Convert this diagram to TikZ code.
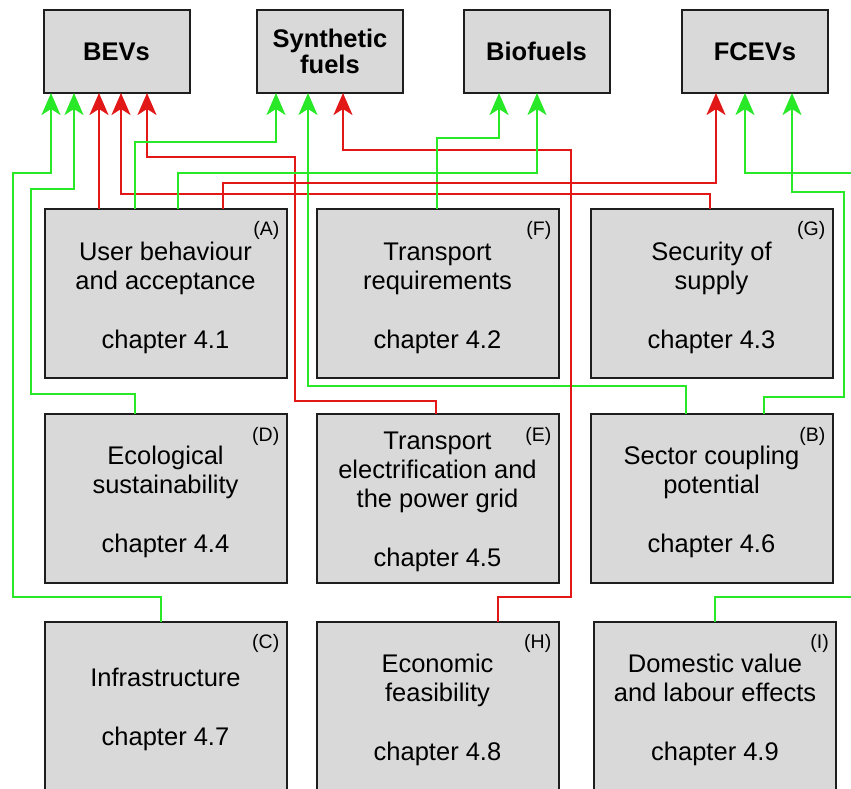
\documentclass[tikz,border=0pt]{standalone}
\usepackage{fontspec}
\setmainfont{Liberation Sans}
\usetikzlibrary{arrows.meta}

\definecolor{boxfill}{RGB}{217,217,217}
\definecolor{boxline}{RGB}{30,30,30}
\definecolor{linkgreen}{RGB}{40,232,40}
\definecolor{linkred}{RGB}{226,24,24}

\tikzset{
  fuelbox/.style={draw=boxline, line width=2pt, fill=boxfill, outer sep=0pt,
    minimum width=146pt, minimum height=83pt, align=center, inner sep=0pt,
    font=\fontsize{25.5}{26}\selectfont\bfseries},
  topicbox/.style={draw=boxline, line width=2pt, fill=boxfill, outer sep=0pt,
    minimum width=242pt, minimum height=169pt, inner sep=0pt},
  topictext/.style={align=center, inner sep=0pt, font=\fontsize{25.5}{29}\selectfont},
  tag/.style={anchor=north east, inner sep=0pt, font=\fontsize{19.5}{22}\selectfont},
  tip/.style={-{Stealth[length=22pt,width=19pt,inset=6pt]}},
  glink/.style={tip, draw=linkgreen, line width=2.2pt},
  rlink/.style={tip, draw=linkred, line width=2.2pt},
}

\begin{document}
\begin{tikzpicture}[x=1pt, y=-1pt]
\useasboundingbox (0,0) rectangle (851,789);
\clip (0,0) rectangle (851,789);

% drive-train options
\node[fuelbox] (bev)  at (116.5,51.5) {BEVs};
\node[fuelbox] (syn)  at (330,51.5)   {Synthetic\\fuels};
\node[fuelbox] (bio)  at (536.5,51.5) {Biofuels};
\node[fuelbox] (fcev) at (755,51.5)   {FCEVs};

% assessment topic boxes
\node[topicbox] (A) at (165.5,293) {};
\node[topicbox] (F) at (437.5,293) {};
\node[topicbox] (G) at (711.5,293) {};
\node[topicbox] (D) at (165.5,498.5) {};
\node[topicbox] (E) at (437.5,498.5) {};
\node[topicbox] (B) at (711.5,498.5) {};
\node[topicbox] (C) at (165.5,706) {};
\node[topicbox] (H) at (437.5,706) {};
\node[topicbox] (I) at (715,706) {};

% topic titles
\node[topictext] (Atext) at ([yshift=-5pt]A.center) {User behaviour\\and acceptance\\[30pt]chapter 4.1};
\node[topictext] (Ftext) at ([yshift=-5pt]F.center) {Transport\\requirements\\[30pt]chapter 4.2};
\node[topictext] (Gtext) at ([yshift=-5pt]G.center) {Security of\\supply\\[30pt]chapter 4.3};
\node[topictext] (Dtext) at ([yshift=-3.5pt]D.center) {Ecological\\sustainability\\[30pt]chapter 4.4};
\node[topictext] (Etext) at ([yshift=-3.5pt]E.center) {Transport\\electrification and\\the power grid\\[30pt]chapter 4.5};
\node[topictext] (Btext) at ([yshift=-3.5pt]B.center) {Sector coupling\\potential\\[30pt]chapter 4.6};
\node[topictext] (Ctext) at ([yshift=-3.5pt]C.center) {Infrastructure\\[30pt]chapter 4.7};
\node[topictext] (Htext) at ([yshift=-3.5pt]H.center) {Economic\\feasibility\\[30pt]chapter 4.8};
\node[topictext] (Itext) at ([yshift=-3.5pt]I.center) {Domestic value\\and labour effects\\[30pt]chapter 4.9};

% topic letters
\foreach \n in {A,B,C,D,E,F,G,H,I}
  \node[tag] (tag\n) at ([shift={(-7pt,-13pt)}]\n.north east) {(\n)};

% links into BEVs
\draw[glink] ([xshift=116.5pt]C.north west) |- (13,597) |- (51,173) -- ([xshift=7.5pt]bev.south west);
\draw[glink] ([xshift=90.5pt]D.north west) |- (31,394) |- (74,189) -- ([xshift=30.5pt]bev.south west);
\draw[rlink] ([xshift=54.5pt]A.north west) -- ([xshift=55.5pt]bev.south west);
\draw[rlink] ([xshift=119.5pt]G.north west) |- (121,194) -- ([xshift=77.5pt]bev.south west);
\draw[rlink] ([xshift=119.5pt]E.north west) |- (295,401) |- (147,157) -- ([xshift=103.5pt]bev.south west);

% links into synthetic fuels
\draw[glink] ([xshift=90.5pt]A.north west) |- (276,142) -- ([xshift=19pt]syn.south west);
\draw[glink] ([xshift=95.5pt]B.north west) |- (308,386) -- ([xshift=51pt]syn.south west);
\draw[rlink] ([xshift=181.5pt]H.north west) |- (571,597) |- (343,150) -- ([xshift=86pt]syn.south west);

% links into biofuels
\draw[glink] ([xshift=120.5pt]F.north west) |- (499,138) -- ([xshift=35.5pt]bio.south west);
\draw[glink] ([xshift=133.5pt]A.north west) |- (537,173) -- ([xshift=73.5pt]bio.south west);

% links into FCEVs
\draw[rlink] ([xshift=178.5pt]A.north west) |- (716,183) -- ([xshift=34pt]fcev.south west);
\draw[glink] ([xshift=121pt]I.north west) |- (880,597) |- (745,173) -- ([xshift=63pt]fcev.south west);
\draw[glink] ([xshift=173.5pt]B.north west) |- (844,397) |- (792,192) -- ([xshift=110pt]fcev.south west);
\end{tikzpicture}
\end{document}
